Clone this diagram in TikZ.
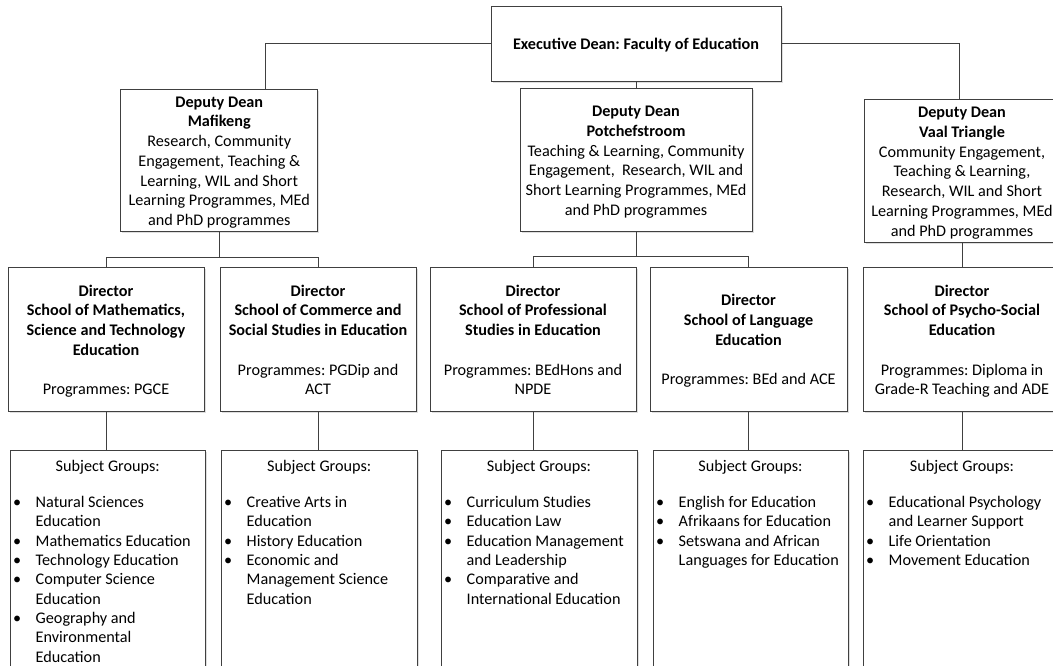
\documentclass[tikz,border=0pt]{standalone}
\usepackage{fontspec}
\setmainfont{Carlito}
\usetikzlibrary{shadows}
\frenchspacing
\newcommand{\sgb}{\makebox[24pt][l]{\hspace{1.5pt}\textbullet}}
\newcommand{\sgi}{\hspace*{24pt}}
\newcommand{\boxtxt}[1]{\raisebox{-2.5pt}[\height][\depth]{\begin{tabular}{@{}c@{}}#1\end{tabular}}}
\newcommand{\listtxt}[1]{\begin{tabular}[t]{@{}l@{}}#1\end{tabular}}
\begin{document}
\begin{tikzpicture}[x=1pt,y=-1pt,
  line/.style={draw=black!75, line width=0.9pt},
  box/.style={draw=black!75, line width=0.9pt, fill=white, rectangle, inner sep=0pt,
    align=center, font=\fontsize{16.2}{19.75}\selectfont,
    drop shadow={shadow xshift=1.6pt, shadow yshift=-1.6pt, fill=black!25, opacity=0.5}},
  txt/.style={inner sep=0pt, font=\fontsize{16.2}{19.75}\selectfont},
  lst/.style={inner sep=0pt, anchor=base west, font=\fontsize{16.2}{19.35}\selectfont},
]
\clip (0,0) rectangle (1053,665);
\fill[white] (0,0) rectangle (1053,665);

% top level
\node[box, minimum width=290pt, minimum height=75pt] (exec) at (636,43.5)
  {\boxtxt{\textbf{Executive Dean: Faculty of Education}}};

% deputy deans
\node[box, minimum width=197pt, minimum height=142pt] (maf) at (219.25,160)
  {\boxtxt{\textbf{Deputy Dean}\\ \textbf{Mafikeng}\\ Research, Community\\ Engagement, Teaching \&\\ Learning, WIL and Short\\ Learning Programmes, MEd\\ and PhD programmes}};
\node[box, minimum width=232pt, minimum height=143pt] (potch) at (636,159.5)
  {\boxtxt{\textbf{Deputy Dean}\\ \textbf{Potchefstroom}\\ Teaching \& Learning, Community\\ Engagement,\ \ Research, WIL and\\ Short Learning Programmes, MEd\\ and PhD programmes}};
\node[box, minimum width=196pt, minimum height=143pt] (vaal) at (962,170.5)
  {\boxtxt{\textbf{Deputy Dean}\\ \textbf{Vaal Triangle}\\ Community Engagement,\\ Teaching \& Learning,\\ Research, WIL and Short\\ Learning Programmes, MEd\\ and PhD programmes}};

% directors
\node[box, minimum width=196pt, minimum height=144pt] (d1) at (106,339)
  {\boxtxt{\textbf{Director}\\ \textbf{School of Mathematics,}\\ \textbf{Science and Technology}\\ \textbf{Education}\\ \\ Programmes: PGCE}};
\node[box, minimum width=196pt, minimum height=144pt] (d2) at (318,339)
  {\boxtxt{\textbf{Director}\\ \textbf{School of Commerce and}\\ \textbf{Social Studies in Education}\\ \\ Programmes: PGDip and\\ ACT}};
\node[box, minimum width=206pt, minimum height=144pt] (d3) at (533,339)
  {\boxtxt{\textbf{Director}\\ \textbf{School of Professional}\\ \textbf{Studies in Education}\\ \\ Programmes: BEdHons and\\ NPDE}};
\node[box, minimum width=197pt, minimum height=144pt] (d4) at (748.5,339)
  {\boxtxt{\textbf{Director}\\ \textbf{School of Language}\\ \textbf{Education}\\ \\ Programmes: BEd and ACE}};
\node[box, minimum width=198pt, minimum height=144pt] (d5) at (962,339)
  {\boxtxt{\textbf{Director}\\ \textbf{School of Psycho-Social}\\ \textbf{Education}\\ \\ Programmes: Diploma in\\ Grade-R Teaching and ADE}};

% subject group boxes
\node[box, minimum width=195.5pt, minimum height=270pt] (s1) at (107.75,585) {};
\node[box, minimum width=196.5pt, minimum height=270pt] (s2) at (319.25,585) {};
\node[box, minimum width=196pt, minimum height=270pt] (s3) at (539,585) {};
\node[box, minimum width=195pt, minimum height=270pt] (s4) at (750.5,585) {};
\node[box, minimum width=198pt, minimum height=270pt] (s5) at (962,585) {};

\node[txt, anchor=base] (sg1) at (107.75,471) {Subject Groups:};
\node[txt, anchor=base] (sg2) at (319.25,471) {Subject Groups:};
\node[txt, anchor=base] (sg3) at (539,471) {Subject Groups:};
\node[txt, anchor=base] (sg4) at (750.5,471) {Subject Groups:};
\node[txt, anchor=base] (sg5) at (962,471) {Subject Groups:};

\node[lst] (l1) at (11.5,507.5) {\listtxt{\sgb Natural Sciences\\ \sgi Education\\ \sgb Mathematics Education\\ \sgb Technology Education\\ \sgb Computer Science\\ \sgi Education\\ \sgb Geography and\\ \sgi Environmental\\ \sgi Education}};
\node[lst] (l2) at (222.5,507.5) {\listtxt{\sgb Creative Arts in\\ \sgi Education\\ \sgb History Education\\ \sgb Economic and\\ \sgi Management Science\\ \sgi Education}};
\node[lst] (l3) at (442.5,507.5) {\listtxt{\sgb Curriculum Studies\\ \sgb Education Law\\ \sgb Education Management\\ \sgi and Leadership\\ \sgb Comparative and\\ \sgi International Education}};
\node[lst] (l4) at (654.5,507.5) {\listtxt{\sgb English for Education\\ \sgb Afrikaans for Education\\ \sgb Setswana and African\\ \sgi Languages for Education}};
\node[lst] (l5) at (864.5,507.5) {\listtxt{\sgb Educational Psychology\\ \sgi and Learner Support\\ \sgb Life Orientation\\ \sgb Movement Education}};

% connectors
\coordinate (mafin) at (265,89);
\coordinate (vaalin) at (959,99);
\draw[line] (exec.west) -| (mafin);
\draw[line] (exec.east) -| (vaalin);
\draw[line] (exec.south) -- (potch.north);

\draw[line] (maf.south) -- ++(0,26) -| (d1.north);
\draw[line] (maf.south) -- ++(0,26) -| (d2.north);
\draw[line] (potch.south) -- ++(0,25) -| (d3.north);
\draw[line] (potch.south) -- ++(0,25) -| (d4.north);
\draw[line] (vaal.south) -- (d5.north);

\draw[line] (d1.south) -- (d1.south |- s1.north);
\draw[line] (d2.south) -- (d2.south |- s2.north);
\draw[line] (d3.south) -- (d3.south |- s3.north);
\draw[line] (d4.south) -- (d4.south |- s4.north);
\draw[line] (d5.south) -- (d5.south |- s5.north);
\end{tikzpicture}
\end{document}
